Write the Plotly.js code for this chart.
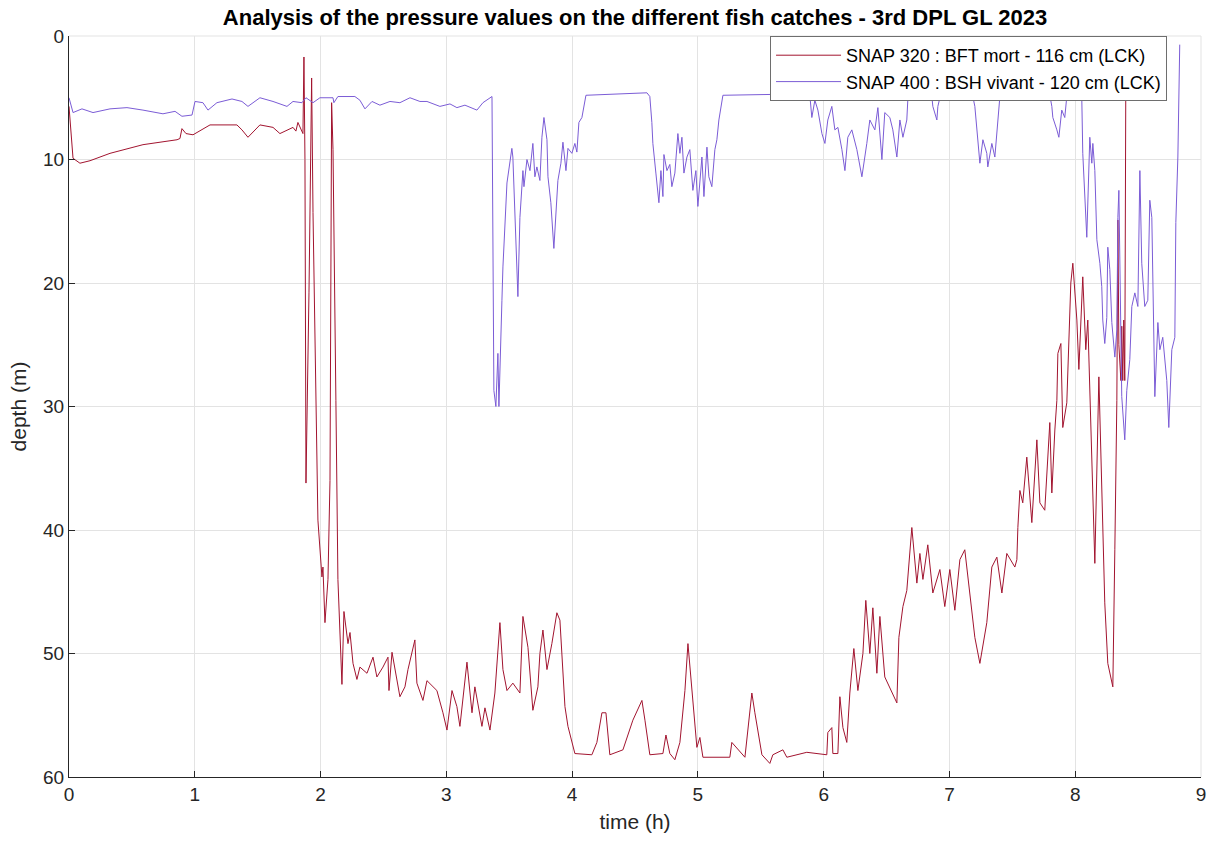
<!DOCTYPE html>
<html>
<head>
<meta charset="utf-8">
<script src="https://cdn.plot.ly/plotly-3.0.1.min.js"></script>
<style>html,body{margin:0;padding:0;background:#fff;}#chart{width:1218px;height:843px;}</style>
</head>
<body>
<div id="chart"></div>
<script>
// SNAP 320 : BFT mort - 116 cm (LCK)
const bftTime = [0,0.032,0.087,0.167,0.326,0.588,0.859,0.882,0.898,0.930,0.986,1.121,1.335,1.375,1.423,1.518,1.622,1.677,1.781,1.804,1.820,1.844,1.860,
1.868,1.876,1.884,1.908,1.929,1.940,1.979,2.011,2.019,2.035,2.059,2.075,2.088,2.099,2.122,2.138,2.170,2.186,2.218,2.234,2.258,2.289,2.313,2.369,2.417,2.448,2.496,2.536,2.544,2.568,2.631,2.671,2.695,2.750,2.766,2.814,2.846,2.925,2.973,3.005,3.045,3.084,3.108,3.164,3.204,3.227,3.283,3.307,3.347,3.386,3.426,3.450,3.482,3.529,3.585,3.609,3.649,3.688,3.728,3.744,3.768,3.800,3.839,3.879,3.903,3.943,3.967,4.022,4.157,4.197,4.237,4.269,4.300,4.404,4.483,4.555,4.579,4.618,4.722,4.746,4.777,4.817,4.857,4.897,4.921,4.952,4.992,5.016,5.040,5.254,5.270,5.374,5.429,5.453,5.493,5.509,5.572,5.596,5.676,5.707,5.866,6.025,6.033,6.065,6.073,6.113,6.129,6.153,6.184,6.208,6.240,6.272,6.312,6.335,6.367,6.391,6.423,6.447,6.486,6.542,6.582,6.598,6.630,6.661,6.685,6.701,6.741,6.765,6.789,6.828,6.868,6.924,6.963,7.003,7.043,7.083,7.122,7.162,7.202,7.242,7.297,7.337,7.377,7.417,7.456,7.520,7.536,7.544,7.560,7.583,7.615,7.655,7.695,7.719,7.758,7.798,7.814,7.838,7.854,7.862,7.886,7.901,7.933,7.965,7.981,8.013,8.029,8.060,8.084,8.100,8.156,8.188,8.235,8.259,8.299,8.315,8.331,8.339,8.347,8.363,8.370,8.378,8.386,8.394,8.402];
const bftDepth = [5.7,9.9,10.3,10.1,9.5,8.8,8.4,8.3,7.5,7.9,8.0,7.2,7.2,7.6,8.2,7.2,7.4,7.9,7.4,7.7,7.0,7.6,7.9,
1.7,10.0,36.2,20.8,3.4,14.3,39.2,43.8,43.0,47.5,44.0,36.0,5.4,9.2,29.5,44.0,52.5,46.6,49.2,48.3,50.8,52.1,51.1,51.6,50.3,51.9,51.1,50.3,53.0,49.9,53.5,52.7,51.3,48.9,52.4,53.8,52.2,53.0,54.8,56.2,53.0,54.3,55.9,50.7,54.8,52.7,55.9,54.4,56.2,53.2,47.5,51.3,53.0,52.4,53.2,47.0,49.5,54.6,52.7,50.0,48.1,51.3,49.2,46.7,47.3,54.3,55.9,58.1,58.2,57.2,54.8,54.8,58.2,57.8,55.4,53.8,55.4,58.2,58.1,56.6,58.1,58.6,57.2,53.0,49.2,52.7,57.6,56.8,58.4,58.4,57.2,58.4,53.2,54.8,57.0,58.2,58.9,58.2,57.8,58.4,58.0,58.2,56.4,56.0,58.1,58.1,53.5,56.0,57.2,53.2,49.6,53.0,50.0,45.7,50.0,46.3,51.6,47.0,51.9,53.2,54.0,48.7,46.2,44.9,41.4,39.8,44.3,41.9,44.0,41.2,45.1,43.2,46.2,43.2,46.5,42.4,41.6,45.1,48.7,50.8,47.5,43.0,42.2,45.1,41.9,43.0,42.4,39.8,36.8,37.8,34.1,39.4,32.7,37.8,38.4,31.3,37.0,31.9,29.5,25.7,24.9,31.7,29.7,20.0,18.4,23.0,27.0,19.5,25.4,23.0,42.7,27.6,45.9,50.8,52.7,41.6,29.5,14.9,25.0,27.9,23.5,27.9,23.0,27.9,4.5];

// SNAP 400 : BSH vivant - 120 cm (LCK)
const bshTime = [0,0.032,0.103,0.191,0.326,0.461,0.588,0.747,0.843,0.898,0.978,1.002,1.065,1.105,1.176,1.296,1.375,1.423,1.518,1.622,1.733,1.781,1.852,1.884,1.940,1.995,2.099,2.106,2.138,2.273,2.313,2.353,2.409,2.472,2.552,2.631,2.711,2.790,2.846,2.949,3.029,3.084,3.148,3.243,3.291,3.363,
3.378,3.394,3.410,3.418,3.442,3.450,3.482,3.498,3.521,3.529,3.545,3.569,3.585,3.609,3.617,3.641,3.665,3.688,3.704,3.720,3.744,3.760,3.776,3.800,3.808,3.831,3.855,3.887,3.911,3.927,3.951,3.967,3.998,4.022,4.038,4.054,4.078,4.094,4.110,4.595,4.618,4.634,4.642,4.666,4.690,4.706,4.722,4.730,4.754,4.777,4.793,4.817,4.841,4.857,4.873,4.889,4.913,4.936,4.960,4.984,5.000,5.032,5.048,5.072,5.087,5.111,5.135,5.151,5.167,5.199,5.755,5.763,5.771,5.890,5.906,5.930,5.954,5.986,6.010,6.033,6.065,6.089,6.113,6.145,6.169,6.192,6.224,6.264,6.304,6.343,6.367,6.407,6.431,6.463,6.486,6.526,6.550,6.582,6.606,6.630,6.661,6.669,6.701,6.860,6.868,6.900,6.908,6.924,7.186,7.202,7.226,7.242,7.266,7.297,7.305,7.337,7.361,7.385,7.401,7.417,7.679,7.687,7.798,7.814,7.822,7.854,7.870,7.893,7.917,7.933,8.052,8.060,8.092,8.116,8.132,8.140,8.156,8.172,8.196,8.211,8.219,8.235,8.251,8.259,8.275,8.291,8.315,8.331,8.339,8.347,8.370,8.394,8.410,8.434,8.450,8.474,8.498,8.514,8.529,8.553,8.577,8.593,8.609,8.633,8.657,8.673,8.696,8.728,8.744,8.768,8.792,8.800,8.808,8.816,8.831];
const bshDepth = [5.0,6.2,5.9,6.2,5.9,5.8,6.0,6.3,6.1,6.5,6.4,5.3,5.4,6.0,5.4,5.1,5.3,5.7,5.0,5.3,5.7,5.3,5.4,5.0,5.4,5.0,5.0,5.4,4.9,4.9,5.2,5.9,5.3,5.6,5.3,5.4,5.0,5.3,5.3,5.7,5.5,5.8,5.6,6.0,5.4,4.9,
28.7,30.0,25.7,30.0,21.4,18.7,11.9,10.6,9.1,9.8,14.3,21.1,14.7,10.9,12.2,10.0,10.9,8.7,11.4,10.6,11.7,8.2,6.6,8.4,11.4,13.5,17.2,11.7,10.3,8.6,10.9,9.1,9.5,8.7,9.4,7.0,6.6,5.7,4.8,4.6,4.9,7.0,8.7,11.1,13.5,10.9,13.0,9.6,10.9,10.4,12.2,11.1,7.9,9.5,8.2,11.1,9.8,9.2,12.5,10.9,13.8,9.8,13.0,9.0,11.4,12.2,9.2,8.4,6.8,4.8,4.7,5.2,4.9,4.8,6.6,5.2,6.0,7.9,8.7,6.8,5.7,7.6,7.4,9.2,10.9,8.2,7.6,9.2,11.4,8.7,6.8,7.6,5.8,10.0,6.2,6.6,7.6,9.8,6.8,8.2,6.8,5.2,4.9,4.9,5.7,6.8,5.7,5.0,4.9,5.7,8.2,10.3,8.4,9.5,10.6,8.7,9.8,7.0,4.9,4.6,4.6,5.0,4.8,5.7,6.6,7.6,8.2,6.0,6.6,4.9,4.9,9.5,16.3,8.2,10.3,8.7,10.9,16.5,18.4,20.3,23.0,24.9,22.8,17.1,18.9,23.2,26.0,23.8,14.7,12.5,29.2,32.7,28.7,26.2,21.9,20.8,21.9,10.9,18.4,21.9,21.4,13.3,14.7,29.2,23.2,25.4,24.4,27.9,31.7,25.4,24.4,15.1,11.7,9.8,0.7];

const seriesNames = ['SNAP 320 : BFT mort - 116 cm (LCK)', 'SNAP 400 : BSH vivant - 120 cm (LCK)'];
const xTicks = [0,1,2,3,4,5,6,7,8,9];
const yTicks = [0,10,20,30,40,50,60];

const FONT = 'Liberation Sans, Arial, Helvetica, sans-serif';
const traces = [
  {x: bftTime, y: bftDepth, type: 'scatter', mode: 'lines', name: seriesNames[0],
   line: {color: '#A2142F', width: 1}},
  {x: bshTime, y: bshDepth, type: 'scatter', mode: 'lines', name: seriesNames[1],
   line: {color: '#7B5CD6', width: 1}}
];
const layout = {
  width: 1218, height: 843,
  margin: {l: 69, r: 17, t: 36, b: 66},
  paper_bgcolor: '#ffffff', plot_bgcolor: '#ffffff',
  font: {family: FONT, size: 19, color: '#262626'},
  title: {text: '<b>Analysis of the pressure values on the different fish catches - 3rd DPL GL 2023</b>',
          font: {family: FONT, size: 22, color: '#000000'}, x: 0.5214, xanchor: 'center', y: 0.979, yanchor: 'middle'},
  xaxis: {range: [0, 9], tickvals: xTicks, ticktext: xTicks.map(String),
          showgrid: true, gridcolor: '#e3e3e3', gridwidth: 1, zeroline: false,
          showline: true, linecolor: '#262626', linewidth: 1, mirror: false,
          ticks: 'inside', ticklen: 6, tickcolor: '#262626',
          tickfont: {family: FONT, size: 19, color: '#262626'},
          title: {text: 'time (h)', font: {family: FONT, size: 21, color: '#262626'}, standoff: 10}},
  yaxis: {range: [60, 0], tickvals: yTicks, ticktext: yTicks.map(String),
          showgrid: true, gridcolor: '#e3e3e3', gridwidth: 1, zeroline: false,
          showline: true, linecolor: '#262626', linewidth: 1, mirror: false,
          ticks: 'inside', ticklen: 6, tickcolor: '#262626',
          tickfont: {family: FONT, size: 19, color: '#262626'},
          title: {text: 'depth (m)', font: {family: FONT, size: 21, color: '#262626'}, standoff: 10}},
  showlegend: true,
  legend: {x: 0.97, xanchor: 'right', y: 1, yanchor: 'top', bgcolor: '#ffffff',
           bordercolor: '#6e6e6e', borderwidth: 1, font: {family: FONT, size: 18, color: '#000000'},
           itemwidth: 65, tracegroupgap: 0},
  shapes: [
    {type: 'line', xref: 'paper', yref: 'paper', x0: 0, x1: 1, y0: 1, y1: 1, line: {color: '#e3e3e3', width: 1}},
    {type: 'line', xref: 'paper', yref: 'paper', x0: 1, x1: 1, y0: 0, y1: 1, line: {color: '#e3e3e3', width: 1}}
  ],
  hovermode: false
};
Plotly.newPlot('chart', traces, layout, {displayModeBar: false, staticPlot: true});
</script>
</body>
</html>
